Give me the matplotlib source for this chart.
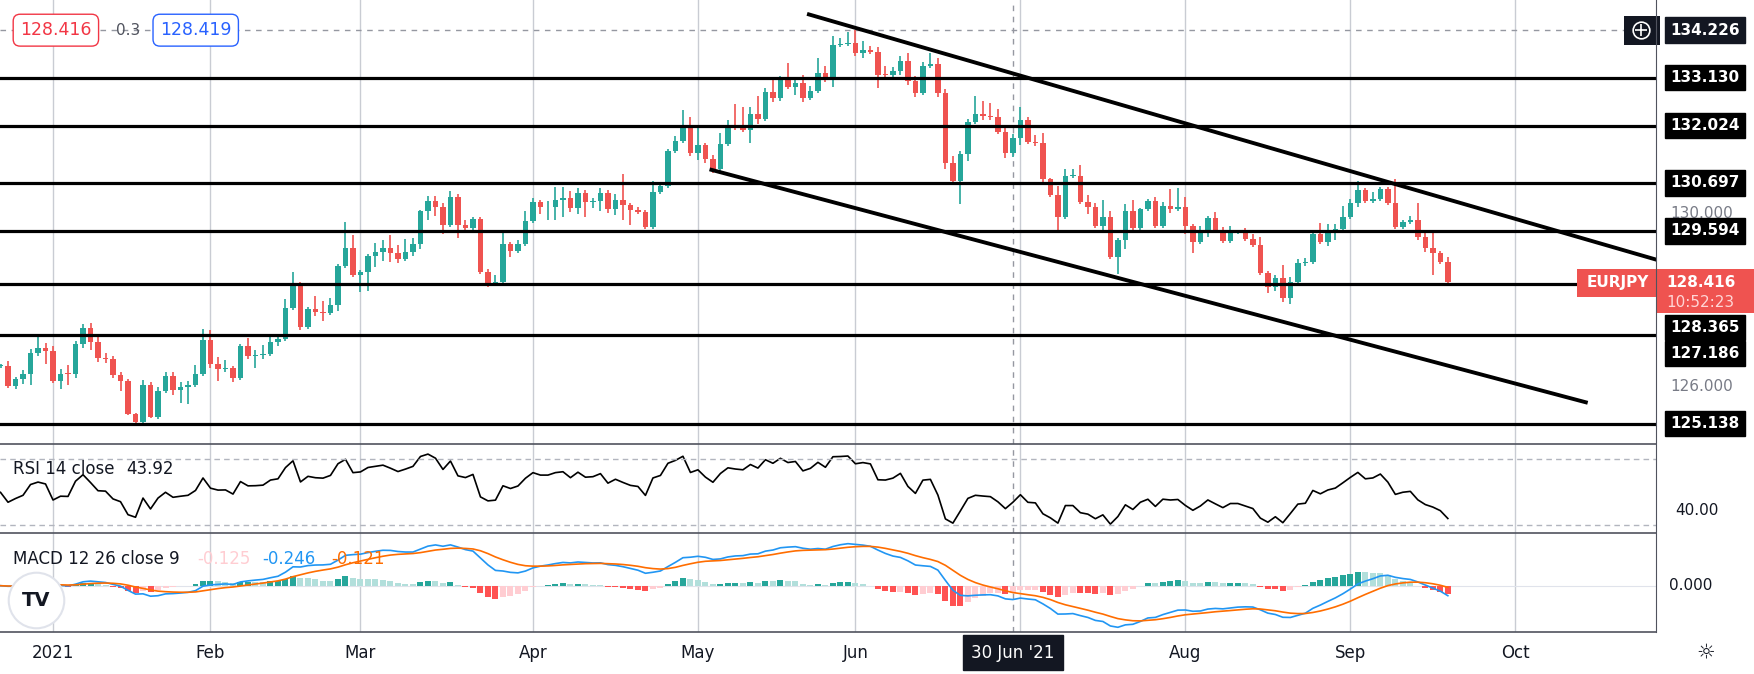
import numpy as np
import pandas as pd
import matplotlib
matplotlib.use("Agg")
import matplotlib.pyplot as plt
from matplotlib.transforms import blended_transform_factory
from matplotlib.patches import Rectangle

# ---- data (EURJPY daily) ----
start_date = "2020-12-23"
closes = [
    126.47,
    126.01, 126.16, 126.29, 126.77, 126.89, 126.82, 126.13, 126.29, 126.28, 126.98,
    127.35, 127.03, 126.66, 126.64, 126.27, 126.13, 125.36, 125.18, 126.03, 125.30,
    125.89, 126.24, 125.92, 125.98, 126.03, 126.29, 127.07, 126.52, 126.41, 126.42,
    126.20, 126.93, 126.71, 126.72, 126.75, 127.03, 127.10, 127.81, 128.35, 127.38,
    127.79, 127.72, 127.70, 127.88, 128.78, 129.20, 128.58, 128.64, 129.00, 129.10,
    129.19, 129.07, 128.94, 129.10, 129.28,
    130.05, 130.27, 130.13, 129.72, 130.37, 129.73, 129.65, 129.86, 128.65, 128.38,
    128.42, 129.29, 129.13, 129.29, 129.82, 130.25, 130.13, 130.13, 130.30, 130.36,
    130.12, 130.46, 130.26, 130.29, 130.46, 130.10, 130.30, 130.18, 130.07, 130.03,
    129.69, 130.49, 130.63, 131.43, 131.66, 132.01, 131.38, 131.57, 131.26, 131.03,
    131.59, 132.01, 131.96, 131.93, 132.30, 132.17, 132.80, 132.67, 133.07, 132.92,
    133.00, 132.67, 132.83, 133.24, 133.07, 133.88,
    133.90, 133.94, 133.69, 133.77, 133.73, 133.20, 133.19, 133.28, 133.51, 133.06,
    132.78, 133.40, 133.44, 132.77, 131.16, 130.75, 131.36, 132.10, 132.30, 132.25,
    132.21, 131.88, 131.40, 131.73, 132.15, 131.65, 131.61, 130.79, 130.43, 129.92,
    130.86, 130.86, 130.26, 130.13, 129.71, 129.90, 128.99, 129.38, 130.05, 129.65,
    130.09, 130.28, 129.71, 130.16, 130.10, 130.13, 129.71, 129.34, 129.56, 129.88,
    129.62, 129.36, 129.56, 129.56, 129.41, 129.26, 128.62, 128.30, 128.51, 128.05,
    128.42,
    128.84, 128.88, 129.52, 129.34, 129.54, 129.64, 129.92, 130.23, 130.54, 130.28,
    130.33, 130.55, 130.24, 129.69, 129.79, 129.83, 129.44, 129.20, 129.07, 128.88,
    128.416,
]
wick_up = [
    0.05,
    0.12, 0.05, 0.08, 0.10, 0.25, 0.12, 0.10, 0.12, 0.20, 0.06,
    0.10, 0.12, 0.10, 0.10, 0.06, 0.05, 0.04, 0.03, 0.12, 0.08,
    0.10, 0.10, 0.10, 0.12, 0.10, 0.20, 0.25, 0.22, 0.15, 0.18,
    0.05, 0.04, 0.18, 0.12, 0.20, 0.15, 0.10, 0.20, 0.30, 0.06,
    0.03, 0.30, 0.25, 0.15, 0.05, 0.60, 0.30, 0.05, 0.05, 0.20,
    0.20, 0.30, 0.20, 0.30, 0.15,
    0.02, 0.12, 0.12, 0.10, 0.15, 0.08, 0.10, 0.05, 0.05, 0.05,
    0.15, 0.30, 0.05, 0.10, 0.22, 0.10, 0.05, 0.15, 0.30, 0.25,
    0.15, 0.12, 0.08, 0.05, 0.12, 0.08, 0.15, 0.60, 0.05, 0.06,
    0.05, 0.25, 0.08, 0.05, 0.12, 0.38, 0.20, 0.40, 0.05, 0.08,
    0.25, 0.15, 0.50, 0.50, 0.15, 0.40, 0.10, 0.30, 0.10, 0.40,
    0.10, 0.20, 0.10, 0.35, 0.15, 0.20,
    0.15, 0.25, 0.30, 0.20, 0.10, 0.10, 0.20, 0.10, 0.12, 0.20,
    0.10, 0.10, 0.25, 0.15, 0.10, 0.15, 0.08, 0.08, 0.40, 0.30,
    0.30, 0.20, 0.08, 0.10, 0.30, 0.08, 0.15, 0.25, 0.03, 0.20,
    0.15, 0.15, 0.25, 0.15, 0.10, 0.40, 0.15, 0.05, 0.15, 0.25,
    0.03, 0.05, 0.10, 0.10, 0.40, 0.45, 0.25, 0.05, 0.15, 0.05,
    0.15, 0.05, 0.15, 0.05, 0.10, 0.10, 0.20, 0.05, 0.05, 0.30,
    0.10,
    0.10, 0.08, 0.10, 0.25, 0.20, 0.10, 0.25, 0.10, 0.20, 0.03,
    0.15, 0.05, 0.05, 0.55, 0.05, 0.10, 0.40, 0.15, 0.35, 0.05,
    0.10,
]
wick_dn = [
    0.05,
    0.05, 0.08, 0.10, 0.25, 0.08, 0.30, 0.05, 0.20, 0.25, 0.10,
    0.10, 0.20, 0.10, 0.10, 0.08, 0.25, 0.03, 0.10, 0.05, 0.03,
    0.05, 0.05, 0.12, 0.30, 0.40, 0.05, 0.05, 0.10, 0.28, 0.08,
    0.10, 0.05, 0.08, 0.28, 0.10, 0.04, 0.10, 0.05, 0.05, 0.08,
    0.05, 0.10, 0.20, 0.05, 0.15, 0.05, 0.05, 0.40, 0.45, 0.25,
    0.20, 0.20, 0.10, 0.05, 0.10,
    0.10, 0.20, 0.20, 0.20, 0.05, 0.30, 0.10, 0.05, 0.05, 0.08,
    0.05, 0.05, 0.15, 0.05, 0.05, 0.05, 0.15, 0.30, 0.30, 0.40,
    0.10, 0.15, 0.35, 0.15, 0.25, 0.10, 0.15, 0.35, 0.35, 0.05,
    0.05, 0.05, 0.05, 0.05, 0.05, 0.05, 0.05, 0.15, 0.10, 0.10,
    0.05, 0.05, 0.05, 0.05, 0.30, 0.10, 0.05, 0.10, 0.08, 0.05,
    0.20, 0.10, 0.05, 0.05, 0.05, 0.15,
    0.05, 0.05, 0.05, 0.10, 0.05, 0.30, 0.05, 0.05, 0.08, 0.10,
    0.10, 0.05, 0.05, 0.08, 0.15, 0.05, 0.55, 0.15, 0.05, 0.10,
    0.05, 0.05, 0.12, 0.10, 0.15, 0.05, 0.05, 0.15, 0.05, 0.30,
    0.05, 0.05, 0.05, 0.15, 0.05, 0.10, 0.05, 0.40, 0.20, 0.05,
    0.05, 0.05, 0.05, 0.05, 0.10, 0.05, 0.20, 0.25, 0.05, 0.10,
    0.05, 0.05, 0.05, 0.05, 0.05, 0.05, 0.05, 0.15, 0.10, 0.10,
    0.15,
    0.05, 0.05, 0.05, 0.05, 0.10, 0.15, 0.05, 0.05, 0.10, 0.05,
    0.05, 0.05, 0.05, 0.05, 0.05, 0.05, 0.05, 0.10, 0.50, 0.05,
    0.05,
]
level_prices = [133.130, 132.024, 130.697, 129.594, 128.365, 127.186, 125.138]
level_label_y = [133.130, 132.024, 130.697, 129.594, 127.36, 126.76, 125.138]
gray_ticks = [130.0, 126.0]
upper_trend = ([107.8, 220.7], [134.59, 128.93])
lower_trend = ([94.8, 211.4], [131.00, 125.63])
crosshair_price = 134.226
crosshair_date = "2021-06-30"
rsi_label = "43.92"
rsi_seed = 0.14  # assumed average daily move before the first candle
macd_labels = ["-0.125", "-0.246", "-0.121"]

UP, DN = "#26a69a", "#ef5350"
GRID = "#c9ccd3"

dates = pd.bdate_range(start_date, periods=260)
n = len(closes)
c = np.array(closes)
o = np.r_[c[0], c[:-1]]
hi = np.maximum(o, c) + np.array(wick_up)
lo = np.minimum(o, c) - np.array(wick_dn)
x = np.arange(n)

# indicators from closes
s = pd.Series(c)
diffs = np.r_[0.0, np.diff(c)]
ag, al = rsi_seed, rsi_seed
rsi = []
for dv in diffs:
    ag = ag + (max(dv, 0) - ag) / 14
    al = al + (max(-dv, 0) - al) / 14
    rsi.append(100 - 100 / (1 + ag / al))
rsi = np.array(rsi)
macd = s.ewm(span=12, adjust=True).mean() - s.ewm(span=26, adjust=True).mean()
signal = macd.ewm(span=9, adjust=True).mean()
hist = macd - signal

W, H = 1568.0, 603.0
fig = plt.figure(figsize=(17.54, 6.74), dpi=100)
plt.rcParams["font.family"] = "DejaVu Sans"


def box(y0, y1):
    return [0, 1 - y1 / H, 1480 / W, (y1 - y0) / H]


ax = fig.add_axes(box(0, 397))
ax_r = fig.add_axes(box(397, 477), sharex=ax)
ax_m = fig.add_axes(box(477, 565), sharex=ax)

xmax = 220.7
month_pos = []
month_lab = []
for m in pd.date_range("2021-01-01", "2021-10-01", freq="MS"):
    idx = int(np.searchsorted(dates, m))
    month_pos.append(idx)
    month_lab.append("2021" if m.month == 1 else m.strftime("%b"))
cross_x = int(np.searchsorted(dates, pd.Timestamp(crosshair_date)))

for a in (ax, ax_r, ax_m):
    a.set_xlim(-0.07, xmax)
    for mp in month_pos:
        a.axvline(mp, color=GRID, lw=1, zorder=0)
    a.axvline(cross_x, color="#9598a1", lw=1, ls=(0, (4, 4)), zorder=1)
    a.set_xticks([])
    a.set_yticks([])
    for sp in a.spines.values():
        sp.set_visible(False)

# candles
col = np.where(c >= o, UP, DN)
ax.vlines(x, lo, hi, colors=col, lw=1.2, zorder=3)
body_h = np.maximum(np.abs(c - o), 0.02)
ax.bar(x, body_h, bottom=np.minimum(o, c), width=0.72, color=col, zorder=4)

top = 134.226 + 27 / 38.73
bot = 134.226 - 370 / 38.73
ax.set_ylim(bot, top)
for p in level_prices:
    ax.axhline(p, color="black", lw=2.3, zorder=5)
ax.plot(*upper_trend, color="black", lw=2.8, zorder=5)
ax.plot(*lower_trend, color="black", lw=2.8, zorder=5)
ax.axhline(crosshair_price, color="#9598a1", lw=1, ls=(0, (4, 4)), zorder=1)

# separators
for yy in (397, 477, 565):
    fig.add_artist(plt.Line2D([0, 1480 / W], [1 - yy / H] * 2, color="#50535e", lw=1.2))
fig.add_artist(plt.Line2D([1480 / W] * 2, [1 - 565 / H, 1], color="#50535e", lw=0.8))

# right price scale labels
tr = blended_transform_factory(fig.transFigure, ax.transData)
for p, ly in zip(level_prices, level_label_y):
    ax.text(1493 / W, ly, f"{p:.3f}", transform=tr, color="white", fontsize=11,
            fontweight="bold", va="center", ha="left", clip_on=False,
            bbox=dict(boxstyle="square,pad=0.35", fc="black", ec="black"))
for p in gray_ticks:
    ax.text(1493 / W, p, f"{p:.3f}", transform=tr, color="#787b86", fontsize=11,
            va="center", ha="left", clip_on=False, zorder=0)
ax.text(1493 / W, crosshair_price, f"{crosshair_price:.3f}", transform=tr, color="white",
        fontsize=11, fontweight="bold", va="center", ha="left", clip_on=False,
        bbox=dict(boxstyle="square,pad=0.35", fc="#131722", ec="#131722"))
fig.add_artist(Rectangle((1452 / W, 1 - 40 / H), 32 / W, 26 / H, fc="#131722", ec="none"))
icx, icy = 1467 / W, 1 - 27 / H
fig.add_artist(plt.Line2D([icx], [icy], marker="o", ms=12, mfc="none", mec="white", mew=1.2))
fig.add_artist(plt.Line2D([icx], [icy], marker="+", ms=8, mec="white", mew=1.2))

# EURJPY last price tag
fig.add_artist(Rectangle((1410 / W, 1 - 266 / H), 70 / W, 25 / H, fc=DN, ec="none"))
fig.add_artist(Rectangle((1480 / W, 1 - 280 / H), 88 / W, 39 / H, fc=DN, ec="none"))
fig.text(1418 / W, 1 - 253 / H, "EURJPY", color="white", fontsize=11, fontweight="bold", va="center")
fig.text(1490 / W, 1 - 253 / H, f"{closes[-1]:.3f}", color="white", fontsize=11,
         fontweight="bold", va="center")
fig.text(1490 / W, 1 - 271 / H, "10:52:23", color="#ffd6d6", fontsize=11, va="center")

# top-left quote boxes
fig.text(18 / W, 1 - 27 / H, "128.416", color="#f23645", fontsize=12.5, va="center",
         bbox=dict(boxstyle="round,pad=0.4", fc="white", ec="#f23645"))
fig.text(104 / W, 1 - 27 / H, "0.3", color="#50535e", fontsize=11, va="center")
fig.text(143 / W, 1 - 27 / H, "128.419", color="#2962ff", fontsize=12.5, va="center",
         bbox=dict(boxstyle="round,pad=0.4", fc="white", ec="#2962ff"))

# RSI
ax_r.plot(x, rsi, color="black", lw=1.2)
ax_r.set_ylim(30 - 7 / 1.475, 70 + 14 / 1.475)
for lv in (70, 30):
    ax_r.axhline(lv, color="#b2b5be", lw=1, ls=(0, (4, 3)))
fig.text(12 / W, 1 - 420 / H, "RSI 14 close", fontsize=12, color="#131722", va="center")
fig.text(113 / W, 1 - 420 / H, rsi_label, fontsize=12, color="#131722", va="center")
fig.text(1498 / W, 1 - 457 / H, "40.00", fontsize=11, color="#131722", va="center")

# MACD
hcol = []
for i, v in enumerate(hist):
    prev = hist.iloc[i - 1] if i > 0 else v
    if v >= 0:
        hcol.append("#26a69a" if v >= prev else "#b2dfdb")
    else:
        hcol.append("#ff5252" if v <= prev else "#ffcdd2")
ax_m.bar(x, hist, width=0.8, color=hcol)
ax_m.plot(x, macd, color="#2196f3", lw=1.2)
ax_m.plot(x, signal, color="#ff6d00", lw=1.2)
mx = max(abs(macd.min()), macd.max()) * 1.25
ax_m.set_ylim(-mx * 41 / 47, mx)
ax_m.axhline(0, color="#e0e3eb", lw=0.8, zorder=0)
fig.text(12 / W, 1 - 500 / H, "MACD 12 26 close 9", fontsize=12, color="#131722", va="center")
fig.text(176 / W, 1 - 500 / H, macd_labels[0], fontsize=12, color="#ffcdd2", va="center")
fig.text(234 / W, 1 - 500 / H, macd_labels[1], fontsize=12, color="#2196f3", va="center")
fig.text(296 / W, 1 - 500 / H, macd_labels[2], fontsize=12, color="#ff6d00", va="center")
fig.text(1492 / W, 1 - 524 / H, "0.000", fontsize=11, color="#131722", va="center")
fig.add_artist(plt.Line2D([32 / W], [1 - 537 / H], marker="o", ms=40, mfc="white",
                          mec="#e0e3eb", mew=1.5))
fig.text(32 / W, 1 - 537 / H, "TV", fontsize=14, fontweight="bold", color="#131722",
         ha="center", va="center")

# date axis
trx = blended_transform_factory(ax.transData, fig.transFigure)
for mp, lab in zip(month_pos, month_lab):
    if abs(mp - cross_x) < 5:
        continue
    ax.text(mp, 1 - 584 / H, lab, transform=trx, fontsize=12, color="#131722",
            ha="center", va="center", clip_on=False)
ax.text(cross_x, 1 - 584 / H, "30 Jun '21", transform=trx, fontsize=12, color="white",
        ha="center", va="center", clip_on=False,
        bbox=dict(boxstyle="square,pad=0.5", fc="#131722", ec="#131722"))
fig.text(1525 / W, 1 - 584 / H, "☼", fontsize=15, color="#131722", ha="center", va="center")

fig.savefig("out.png", dpi=100, facecolor="white")
